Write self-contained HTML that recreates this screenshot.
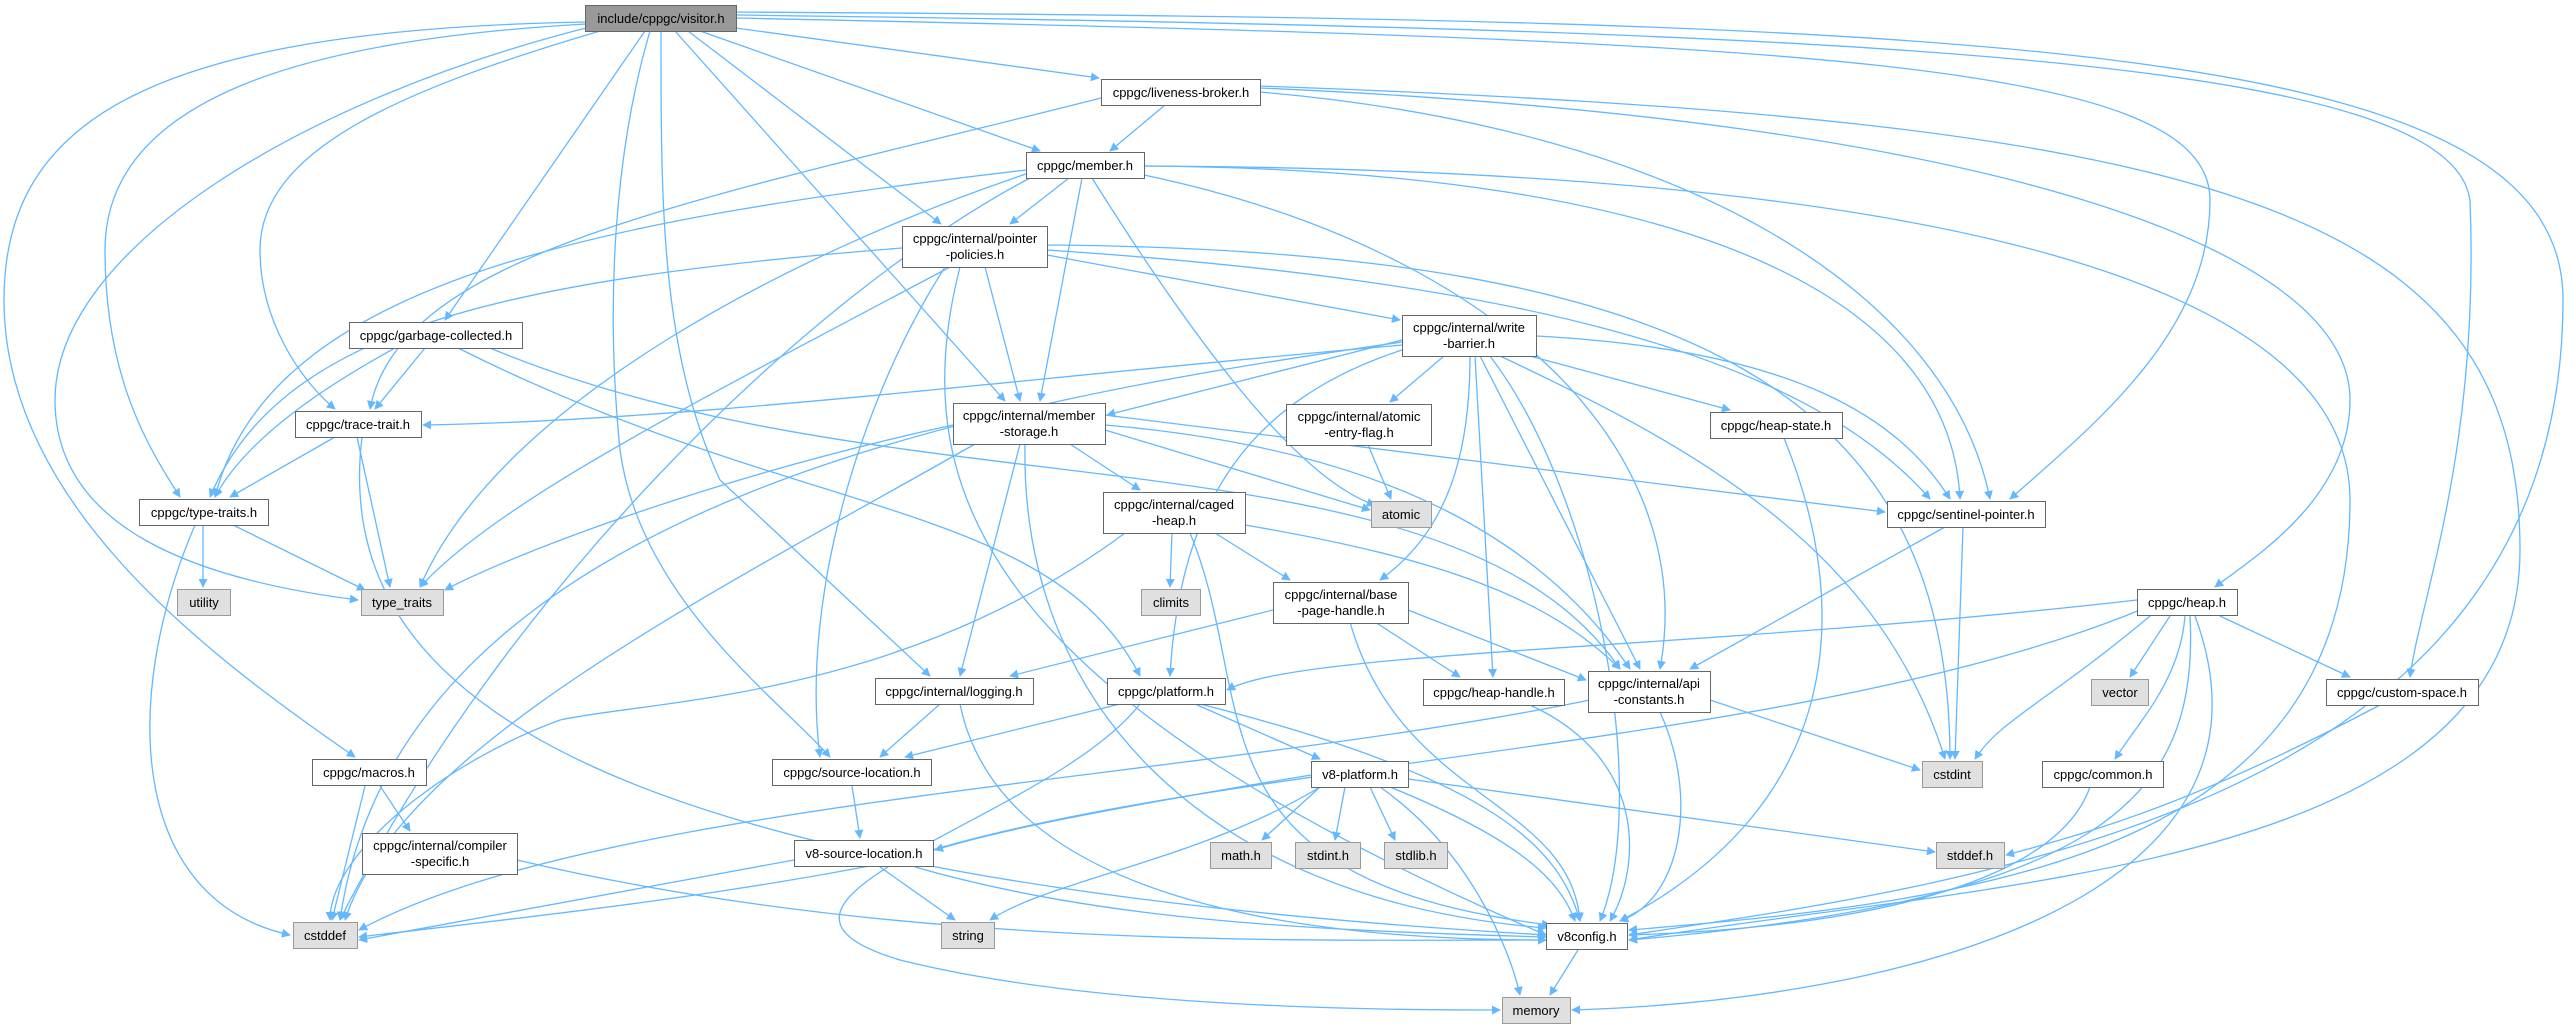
<!DOCTYPE html>
<html><head><meta charset="utf-8"><style>
html,body{margin:0;padding:0;background:#fff;}
svg{display:block;}
text{font-family:"Liberation Sans",Arial,sans-serif;font-size:13px;fill:#000;text-anchor:middle;}
.e{fill:none;stroke:#63b8ff;stroke-width:1.3;marker-end:url(#a);}
.n{fill:#fff;stroke:#666;stroke-width:1;}
.g{fill:#e0e0e0;stroke:#999;stroke-width:1;}
</style></head><body>
<svg width="2573" height="1025" viewBox="0 0 2573 1025" xmlns="http://www.w3.org/2000/svg">
<defs><marker id="a" viewBox="0 0 10 10" refX="9" refY="5" markerWidth="9" markerHeight="9" markerUnits="userSpaceOnUse" orient="auto"><path d="M0,0 L10,5 L0,10 z" fill="#63b8ff"/></marker></defs>
<g>
<path class="e" d="M586,22 C150,30 4,120 4,300 C4,500 200,650 355,757"/>
<path class="e" d="M586,24 C300,40 105,100 105,250 C105,380 150,450 180,497"/>
<path class="e" d="M590,27 C300,100 55,250 55,400 C55,530 200,580 358,600"/>
<path class="e" d="M600,31 C400,90 260,150 260,250 C260,320 300,380 335,409"/>
<path class="e" d="M645,31 L445,320"/>
<path class="e" d="M650,31 C615,150 605,300 620,450 C640,600 780,700 830,757"/>
<path class="e" d="M661,31 C661,200 660,350 720,480 L930,676"/>
<path class="e" d="M675,31 L1005,401"/>
<path class="e" d="M688,31 L941,224"/>
<path class="e" d="M700,31 L1040,151"/>
<path class="e" d="M736,28 L1099,78"/>
<path class="e" d="M736,18 C1800,40 2210,60 2210,200 C2210,330 2100,420 2010,499"/>
<path class="e" d="M736,15 C1900,30 2450,60 2470,200 C2480,450 2420,600 2410,677"/>
<path class="e" d="M736,12 C2000,20 2563,40 2563,300 C2563,800 2000,880 1629,935"/>
<path class="e" d="M1165,105 L1110,151"/>
<path class="e" d="M1101,98 C700,200 400,250 370,409"/>
<path class="e" d="M1260,92 C1700,130 1950,300 1990,499"/>
<path class="e" d="M1260,88 C2000,120 2350,250 2350,400 C2350,500 2250,560 2215,587"/>
<path class="e" d="M1260,86 C2200,120 2520,200 2520,550 C2520,870 2000,880 1629,940"/>
<path class="e" d="M1069,178 L1010,224"/>
<path class="e" d="M1082,178 L1040,401"/>
<path class="e" d="M1026,170 C600,220 270,280 215,497"/>
<path class="e" d="M1026,174 C800,250 500,400 420,587"/>
<path class="e" d="M1030,178 C800,300 500,600 340,920"/>
<path class="e" d="M1092,178 C1200,350 1300,480 1375,505"/>
<path class="e" d="M1144,166 C1700,170 1950,300 1960,499"/>
<path class="e" d="M1144,175 C1500,250 1700,450 1660,669"/>
<path class="e" d="M1144,166 C2000,170 2350,300 2350,500 C2350,850 2000,900 1629,930"/>
<path class="e" d="M985,267 L1020,401"/>
<path class="e" d="M1047,255 L1400,320"/>
<path class="e" d="M902,248 C500,280 280,330 210,497"/>
<path class="e" d="M950,267 C700,400 500,500 420,587"/>
<path class="e" d="M945,267 C860,400 800,600 820,757"/>
<path class="e" d="M960,267 C900,500 1000,700 1546,935"/>
<path class="e" d="M1047,250 C1500,280 1800,350 1930,499"/>
<path class="e" d="M1047,245 C1700,250 1950,400 1950,759"/>
<path class="e" d="M1444,356 L1390,402"/>
<path class="e" d="M1530,356 L1730,410"/>
<path class="e" d="M1536,336 C1800,350 1900,420 1950,499"/>
<path class="e" d="M1402,340 L1107,415"/>
<path class="e" d="M1402,345 C1000,380 700,420 423,425"/>
<path class="e" d="M1470,356 C1470,450 1450,530 1380,580"/>
<path class="e" d="M1475,356 L1493,677"/>
<path class="e" d="M1480,356 L1640,669"/>
<path class="e" d="M1402,350 C1250,400 1180,500 1170,676"/>
<path class="e" d="M1402,342 C1000,400 400,500 340,920"/>
<path class="e" d="M1500,356 C1700,450 1880,550 1945,759"/>
<path class="e" d="M1490,356 C1600,500 1650,800 1600,921"/>
<path class="e" d="M1368,445 L1391,499"/>
<path class="e" d="M1784,438 C1850,600 1850,800 1620,921"/>
<path class="e" d="M1963,527 L1955,759"/>
<path class="e" d="M1945,527 L1690,669"/>
<path class="e" d="M1070,444 L1140,490"/>
<path class="e" d="M1020,444 L960,676"/>
<path class="e" d="M1105,415 L1885,512"/>
<path class="e" d="M1105,425 C1400,450 1550,550 1630,669"/>
<path class="e" d="M1105,430 L1370,510"/>
<path class="e" d="M953,425 C700,480 500,560 445,590"/>
<path class="e" d="M975,444 C700,600 400,750 345,920"/>
<path class="e" d="M1025,444 C1020,700 1200,900 1546,928"/>
<path class="e" d="M425,348 L375,409"/>
<path class="e" d="M395,348 C300,400 240,450 215,497"/>
<path class="e" d="M458,348 C800,520 1050,500 1140,676"/>
<path class="e" d="M490,348 C900,520 1450,420 1620,669"/>
<path class="e" d="M335,437 L230,497"/>
<path class="e" d="M357,437 L390,587"/>
<path class="e" d="M362,437 C330,700 600,880 1546,935"/>
<path class="e" d="M203,525 L203,587"/>
<path class="e" d="M233,525 L365,590"/>
<path class="e" d="M195,525 C120,700 130,900 290,935"/>
<path class="e" d="M1172,533 L1170,587"/>
<path class="e" d="M1215,533 L1290,580"/>
<path class="e" d="M1245,525 C1450,560 1550,600 1620,669"/>
<path class="e" d="M1125,533 C900,700 650,700 560,720 C450,760 330,850 330,920"/>
<path class="e" d="M1190,533 C1260,700 1180,880 1550,925"/>
<path class="e" d="M1273,610 L1010,676"/>
<path class="e" d="M1375,622 L1460,677"/>
<path class="e" d="M1408,610 L1586,680"/>
<path class="e" d="M1350,622 C1400,800 1570,800 1580,921"/>
<path class="e" d="M2137,600 C1700,650 1300,650 1227,690"/>
<path class="e" d="M2170,616 L2130,677"/>
<path class="e" d="M2220,616 L2350,677"/>
<path class="e" d="M2185,616 C2180,680 2140,720 2115,759"/>
<path class="e" d="M2150,616 C2050,700 2000,720 1975,759"/>
<path class="e" d="M2140,610 C1800,750 1200,760 900,860 C700,900 500,920 359,937"/>
<path class="e" d="M2190,616 C2200,800 2100,900 1629,940"/>
<path class="e" d="M2195,616 C2300,900 1900,1000 1572,1010"/>
<path class="e" d="M1530,705 C1650,760 1640,870 1610,921"/>
<path class="e" d="M1710,700 L1920,770"/>
<path class="e" d="M1590,700 C1200,780 600,800 359,930"/>
<path class="e" d="M1660,712 C1700,800 1680,900 1620,921"/>
<path class="e" d="M940,704 L880,757"/>
<path class="e" d="M960,704 C1000,900 1300,940 1546,940"/>
<path class="e" d="M1120,704 L905,757"/>
<path class="e" d="M1195,704 L1320,759"/>
<path class="e" d="M1200,704 C1500,780 1560,850 1580,921"/>
<path class="e" d="M1140,704 C1050,820 700,900 900,960 C1100,1010 1400,1010 1500,1010"/>
<path class="e" d="M380,786 L410,831"/>
<path class="e" d="M365,786 L332,920"/>
<path class="e" d="M517,860 C900,950 1300,940 1546,940"/>
<path class="e" d="M852,786 L860,838"/>
<path class="e" d="M1320,787 L1262,840"/>
<path class="e" d="M1345,787 L1335,840"/>
<path class="e" d="M1370,787 L1395,840"/>
<path class="e" d="M1408,779 L1935,852"/>
<path class="e" d="M1320,787 C1200,860 1050,880 990,920"/>
<path class="e" d="M1380,787 C1470,850 1510,950 1520,995"/>
<path class="e" d="M1311,775 C1100,810 1000,830 935,850"/>
<path class="e" d="M1390,787 C1520,840 1560,880 1575,921"/>
<path class="e" d="M880,867 L955,920"/>
<path class="e" d="M794,860 L359,940"/>
<path class="e" d="M915,867 C1100,920 1300,930 1546,937"/>
<path class="e" d="M2380,705 C2200,800 2100,830 2006,855"/>
<path class="e" d="M2090,787 C2050,900 1800,930 1629,935"/>
<path class="e" d="M1578,950 L1550,995"/>
</g>
<g>
<rect x="585.5" y="5.5" width="151" height="26" fill="#999" stroke="#666"/><text x="661" y="23">include/cppgc/visitor.h</text>
<rect class="n" x="1101.5" y="79.5" width="159" height="26"/><text x="1181" y="97">cppgc/liveness-broker.h</text>
<rect class="n" x="1026.5" y="152.5" width="118" height="26"/><text x="1085" y="170">cppgc/member.h</text>
<rect class="n" x="902.5" y="226.5" width="145" height="41"/><text x="975" y="243">cppgc/internal/pointer</text><text x="975" y="259">-policies.h</text>
<rect class="n" x="349.5" y="322.5" width="173" height="26"/><text x="436" y="340">cppgc/garbage-collected.h</text>
<rect class="n" x="295.5" y="411.5" width="126" height="26"/><text x="358" y="429">cppgc/trace-trait.h</text>
<rect class="n" x="953.5" y="403.5" width="152" height="41"/><text x="1029" y="420">cppgc/internal/member</text><text x="1029" y="436">-storage.h</text>
<rect class="n" x="139.5" y="499.5" width="129" height="26"/><text x="204" y="517">cppgc/type-traits.h</text>
<rect class="n" x="1103.5" y="492.5" width="142" height="41"/><text x="1174" y="509">cppgc/internal/caged</text><text x="1174" y="525">-heap.h</text>
<rect class="n" x="1402.5" y="315.5" width="134" height="41"/><text x="1469" y="332">cppgc/internal/write</text><text x="1469" y="348">-barrier.h</text>
<rect class="n" x="1286.5" y="404.5" width="145" height="41"/><text x="1359" y="421">cppgc/internal/atomic</text><text x="1359" y="437">-entry-flag.h</text>
<rect class="n" x="1710.5" y="412.5" width="132" height="26"/><text x="1776" y="430">cppgc/heap-state.h</text>
<rect class="g" x="1371.5" y="501.5" width="60" height="26"/><text x="1401" y="519">atomic</text>
<rect class="n" x="1887.5" y="501.5" width="158" height="26"/><text x="1966" y="519">cppgc/sentinel-pointer.h</text>
<rect class="g" x="177.5" y="589.5" width="53" height="26"/><text x="204" y="607">utility</text>
<rect class="g" x="361.5" y="589.5" width="82" height="26"/><text x="402" y="607">type_traits</text>
<rect class="g" x="1141.5" y="589.5" width="59" height="26"/><text x="1171" y="607">climits</text>
<rect class="n" x="1273.5" y="582.5" width="135" height="41"/><text x="1341" y="599">cppgc/internal/base</text><text x="1341" y="615">-page-handle.h</text>
<rect class="n" x="2137.5" y="589.5" width="100" height="26"/><text x="2187" y="607">cppgc/heap.h</text>
<rect class="n" x="875.5" y="678.5" width="158" height="26"/><text x="954" y="696">cppgc/internal/logging.h</text>
<rect class="n" x="1107.5" y="678.5" width="118" height="26"/><text x="1166" y="696">cppgc/platform.h</text>
<rect class="n" x="1423.5" y="679.5" width="141" height="26"/><text x="1494" y="697">cppgc/heap-handle.h</text>
<rect class="n" x="1588.5" y="671.5" width="122" height="41"/><text x="1649" y="688">cppgc/internal/api</text><text x="1649" y="704">-constants.h</text>
<rect class="g" x="2091.5" y="679.5" width="57" height="26"/><text x="2120" y="697">vector</text>
<rect class="n" x="2326.5" y="679.5" width="152" height="26"/><text x="2402" y="697">cppgc/custom-space.h</text>
<rect class="n" x="312.5" y="759.5" width="114" height="26"/><text x="369" y="777">cppgc/macros.h</text>
<rect class="n" x="772.5" y="759.5" width="159" height="26"/><text x="852" y="777">cppgc/source-location.h</text>
<rect class="n" x="1311.5" y="761.5" width="97" height="26"/><text x="1360" y="779">v8-platform.h</text>
<rect class="g" x="1922.5" y="761.5" width="60" height="26"/><text x="1952" y="779">cstdint</text>
<rect class="n" x="2042.5" y="761.5" width="121" height="26"/><text x="2103" y="779">cppgc/common.h</text>
<rect class="n" x="362.5" y="833.5" width="155" height="41"/><text x="440" y="850">cppgc/internal/compiler</text><text x="440" y="866">-specific.h</text>
<rect class="n" x="794.5" y="840.5" width="139" height="26"/><text x="864" y="858">v8-source-location.h</text>
<rect class="g" x="1210.5" y="842.5" width="61" height="26"/><text x="1241" y="860">math.h</text>
<rect class="g" x="1295.5" y="842.5" width="65" height="26"/><text x="1328" y="860">stdint.h</text>
<rect class="g" x="1384.5" y="842.5" width="63" height="26"/><text x="1416" y="860">stdlib.h</text>
<rect class="g" x="1936.5" y="842.5" width="68" height="26"/><text x="1970" y="860">stddef.h</text>
<rect class="g" x="293.5" y="922.5" width="64" height="26"/><text x="325" y="940">cstddef</text>
<rect class="g" x="941.5" y="922.5" width="53" height="26"/><text x="968" y="940">string</text>
<rect class="n" x="1546.5" y="923.5" width="81" height="26"/><text x="1587" y="941">v8config.h</text>
<rect class="g" x="1502.5" y="997.5" width="68" height="26"/><text x="1536" y="1015">memory</text>
</g>
</svg>
</body></html>
